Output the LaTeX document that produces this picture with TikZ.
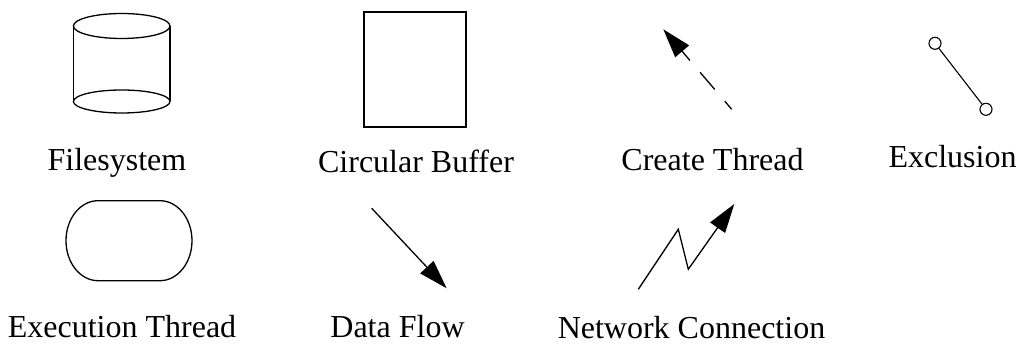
\documentclass[tikz,border=0pt]{standalone}
\usepackage{fontspec}
\setmainfont{Liberation Serif}
\usetikzlibrary{arrows.meta}
\begin{document}
\begin{tikzpicture}[x=1pt,y=-1pt,
  shape line/.style={line width=1.3pt},
  lbl/.style={anchor=base,inner sep=0pt,font=\fontsize{32}{38}\selectfont},
  bigtip/.style={-{Triangle[length=29pt,width=18pt]}},
  exclcircle/.style={draw,circle,minimum size=12pt,inner sep=0pt,line width=1.1pt}]
\useasboundingbox (0,0) rectangle (1023,344);
% Filesystem (cylinder)
\draw[shape line] (121.7,26) ellipse[x radius=48.3,y radius=12.5];
\draw[shape line] (73.4,26) -- (73.4,101.5) (170,26) -- (170,101.5);
\draw[shape line] (121.7,101.5) ellipse[x radius=48.3,y radius=11.5];
\node[lbl] (fs) at (117,171) {Filesystem};
% Circular buffer
\draw[shape line] (364,12) rectangle (466,127);
\node[lbl] (cb) at (416,173) {Circular Buffer};
% Create thread
\coordinate (ctA) at (731.7,109.3);
\coordinate (ctB) at (663.3,29.3);
\draw[line width=1.3pt,bigtip,dash pattern=on 22.5pt off 15.5pt,dash phase=11.8pt] (ctA) -- (ctB);
\node[lbl] (ct) at (712.5,171) {Create Thread};
% Exclusion
\node[exclcircle] (exA) at (935,43.3) {};
\node[exclcircle] (exB) at (986,109.3) {};
\draw[line width=1.1pt] (exA) -- (exB);
\node[lbl] (ex) at (952.5,168) {Exclusion};
% Execution thread
\draw[shape line] (98,200.7) -- (160,200.7)
  arc[start angle=-90,end angle=90,x radius=32,y radius=40]
  -- (98,280.7)
  arc[start angle=90,end angle=270,x radius=32,y radius=40] -- cycle;
\node[lbl] (et) at (122,338) {Execution Thread};
% Data flow
\coordinate (dfA) at (371.7,208.3);
\coordinate (dfB) at (446.7,288.3);
\draw[line width=1.3pt,bigtip] (dfA) -- (dfB);
\node[lbl] (df) at (397.5,338) {Data Flow};
% Network connection
\coordinate (ncA) at (638.3,289.3);
\coordinate (ncB) at (678.3,229.3);
\coordinate (ncC) at (688.3,269.3);
\coordinate (ncD) at (734.3,204);
\draw[line width=1.3pt,bigtip] (ncA) -- (ncB) -- (ncC) -- (ncD);
\node[lbl] (nc) at (691.5,338.5) {Network Connection};
\end{tikzpicture}
\end{document}
